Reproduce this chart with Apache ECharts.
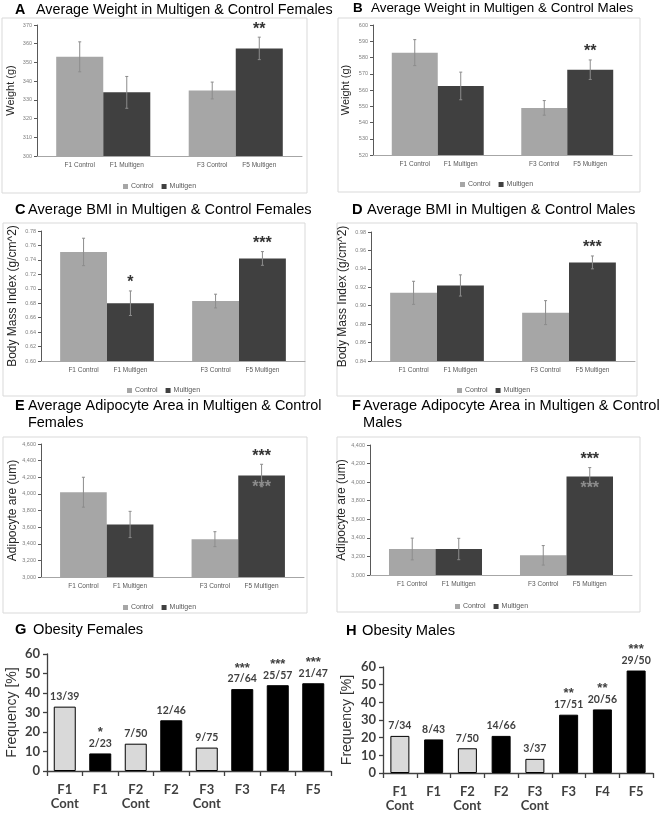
<!DOCTYPE html>
<html>
<head>
<meta charset="utf-8">
<script src="https://cdn.jsdelivr.net/npm/echarts@6/dist/echarts.min.js"></script>
<style>
  html, body { margin: 0; padding: 0; background: #fff; }
  #main { width: 661px; height: 813px; }
</style>
</head>
<body>
<div id="main"></div>
<script>
// ---- data ----
// A / B : weight (g)
var ctrlNamesAB = ['F1 Control', 'F3 Control'];
var multNamesAB = ['F1 Multigen', 'F5 Multigen'];
var ctrlA = [353, 335], ctrlErrA = [8, 4.5];
var multA = [334, 357.5], multErrA = [8.5, 6];
var sigA = ['', '**'];
var ctrlB = [583, 549], ctrlErrB = [8, 4.5];
var multB = [562.5, 572.5], multErrB = [8.5, 6];
var sigB = ['', '**'];
// C / D : BMI
var ctrlC = [0.751, 0.683], ctrlErrC = [0.019, 0.0095];
var multC = [0.680, 0.742], multErrC = [0.017, 0.0095];
var sigC = ['*', '***'];
var ctrlD = [0.914, 0.8925], ctrlErrD = [0.0125, 0.013];
var multD = [0.922, 0.947], multErrD = [0.0115, 0.007];
var sigD = ['', '***'];
// E / F : adipocyte area
var ctrlE = [4020, 3455], ctrlErrE = [180, 90];
var multE = [3632, 4221], multErrE = [158, 135];
var sigE = ['', '***'], sigInE = ['', '***'];
var ctrlF = [3280, 3212], ctrlErrF = [117, 105];
var multF = [3280, 4060], multErrF = [115, 97];
var sigF = ['', '***'], sigInF = ['', '***'];
// G / H : obesity frequency
var obesityCats = ['F1\nCont', 'F1', 'F2\nCont', 'F2', 'F3\nCont', 'F3', 'F4', 'F5'];
var femaleFreq = [33, 9, 14, 26, 12, 42, 44, 45];
var femaleFrac = ['13/39', '2/23', '7/50', '12/46', '9/75', '27/64', '25/57', '21/47'];
var femaleSig = ['', '*', '', '', '', '***', '***', '***'];
var maleFreq = [21, 19, 14, 21, 8, 33, 36, 58];
var maleFrac = ['7/34', '8/43', '7/50', '14/66', '3/37', '17/51', '20/56', '29/50'];
var maleSig = ['', '', '', '', '', '**', '**', '***'];

var CTRL = '#a6a6a6', MULT = '#404040';
var GAP = 0.29;
var SANS = '"Liberation Sans", Arial, sans-serif';
var CAL = 'Lato, "Open Sans", sans-serif';

var option = {
    animation: false,
    backgroundColor: '#fff',
    grid: [], xAxis: [], yAxis: [], series: [], legend: [], graphic: []
};

function addBarPanel(p) {
    var i = option.grid.length;
    option.grid.push({ left: p.grid[0], top: p.grid[1], width: p.grid[2], height: p.grid[3] });
    var bw = p.grid[2] / 2 * (1 - GAP) / 2;
    option.xAxis.push({
        type: 'category', gridIndex: i, data: [0, 1],
        axisLine: { lineStyle: { color: '#a6a6a6', width: 1 } },
        axisTick: { show: false },
        axisLabel: {
            margin: 6, interval: 0, hideOverlap: false,
            formatter: function (v, idx) {
                return '{n|' + p.ctrlNames[idx] + '}{n|' + p.multNames[idx] + '}';
            },
            rich: { n: { width: bw, align: 'center', fontSize: 6.5, color: '#595959', fontFamily: SANS } }
        }
    });
    option.yAxis.push({
        type: 'value', gridIndex: i, min: p.min, max: p.max, interval: p.interval,
        name: p.yName, nameLocation: 'middle', nameGap: p.nameGap,
        nameTextStyle: { fontSize: p.nameSize, color: '#262626', fontFamily: SANS },
        axisLine: { show: true, lineStyle: { color: '#595959', width: 1 } },
        axisTick: { show: true, length: 3, lineStyle: { color: '#595959' } },
        splitLine: { show: false },
        axisLabel: { fontSize: 5.5, color: '#7f7f7f', margin: 5, fontFamily: SANS, formatter: p.fmt }
    });
    option.series.push({
        name: 'Control', type: 'bar', xAxisIndex: i, yAxisIndex: i, data: p.ctrl,
        barGap: '0%', barCategoryGap: (GAP * 100) + '%', itemStyle: { color: CTRL }, silent: true
    });
    option.series.push({
        name: 'Multigen', type: 'bar', xAxisIndex: i, yAxisIndex: i, data: p.mult,
        barGap: '0%', barCategoryGap: (GAP * 100) + '%', itemStyle: { color: MULT }, silent: true
    });
    var rows = [];
    for (var k = 0; k < 2; k++) {
        rows.push([k, p.ctrl[k] - p.ctrlErr[k], p.ctrl[k] + p.ctrlErr[k], 0, p.ctrl[k]]);
        rows.push([k, p.mult[k] - p.multErr[k], p.mult[k] + p.multErr[k], 1, p.mult[k]]);
    }
    option.series.push({
        name: 'err' + i, type: 'custom', xAxisIndex: i, yAxisIndex: i, z: 10, silent: true,
        encode: { x: 0, y: [1, 2] }, data: rows,
        renderItem: function (params, api) {
            var k = api.value(0), side = api.value(3);
            var w = api.size([1, 0])[0] * (1 - GAP) / 2;
            var top = api.coord([k, api.value(2)]);
            var bot = api.coord([k, api.value(1)]);
            var mid = api.coord([k, api.value(4)]);
            var x = top[0] + (side ? w / 2 : -w / 2);
            var ls = { stroke: '#8c8c8c', lineWidth: 1 };
            var ch = [
                { type: 'line', shape: { x1: x, y1: top[1], x2: x, y2: bot[1] }, style: ls },
                { type: 'line', shape: { x1: x - 1.5, y1: top[1], x2: x + 1.5, y2: top[1] }, style: ls },
                { type: 'line', shape: { x1: x - 1.5, y1: bot[1], x2: x + 1.5, y2: bot[1] }, style: ls }
            ];
            if (side && p.sig[k]) {
                ch.push({ type: 'text', x: x, y: top[1] - 8, style: {
                    text: p.sig[k], font: 'bold 16px ' + SANS, fill: '#333',
                    align: 'center', verticalAlign: 'middle' } });
            }
            if (side && p.sigIn && p.sigIn[k]) {
                ch.push({ type: 'text', x: x, y: mid[1] + 12, style: {
                    text: p.sigIn[k], font: 'bold 16px ' + SANS, fill: '#8c8c8c',
                    align: 'center', verticalAlign: 'middle' } });
            }
            return { type: 'group', children: ch };
        }
    });
    option.legend.push({
        data: ['Control', 'Multigen'], left: p.legend[0], top: p.legend[1],
        icon: 'rect', itemWidth: 5, itemHeight: 5, itemGap: 8, selectedMode: false,
        textStyle: { fontSize: 7, color: '#595959', fontFamily: SANS, padding: [0, 0, 0, -2] }
    });
    option.graphic.push({
        type: 'rect', shape: { x: p.box[0], y: p.box[1], width: p.box[2], height: p.box[3] },
        style: { fill: 'none', stroke: '#d9d9d9', lineWidth: 1 }, silent: true, z: -1
    });
}

function addObesityPanel(p) {
    var i = option.grid.length;
    option.grid.push({ left: p.grid[0], top: p.grid[1], width: p.grid[2], height: p.grid[3] });
    option.xAxis.push({
        type: 'category', gridIndex: i, data: obesityCats,
        axisLine: { lineStyle: { color: '#404040', width: 1.3 } },
        axisTick: { show: true, length: 5, lineStyle: { color: '#404040', width: 1.3 } },
        axisLabel: { margin: 12, fontSize: 13, lineHeight: 14, fontWeight: 'bold', color: '#404040', fontFamily: CAL, interval: 0 }
    });
    option.yAxis.push({
        type: 'value', gridIndex: i, min: 0, max: 60, interval: 10,
        name: 'Frequency [%]', nameLocation: 'middle', nameGap: p.nameGap,
        nameTextStyle: { fontSize: 14, color: '#333', fontFamily: SANS },
        axisLine: { show: true, lineStyle: { color: '#404040', width: 1.3 } },
        axisTick: { show: true, length: 4, lineStyle: { color: '#404040', width: 1.3 } },
        splitLine: { show: false },
        axisLabel: { fontSize: 13, fontWeight: 'bold', color: '#404040', margin: 7, fontFamily: CAL }
    });
    var items = p.freq.map(function (v, k) {
        var ctrl = obesityCats[k].indexOf('Cont') >= 0;
        return { value: v, itemStyle: { color: ctrl ? '#d9d9d9' : '#000', borderColor: '#000', borderWidth: 1 } };
    });
    option.series.push({
        name: p.name, type: 'bar', xAxisIndex: i, yAxisIndex: i, data: items, barWidth: p.barWidth, silent: true,
        label: {
            show: true, position: 'top', distance: 4,
            formatter: function (prm) {
                var s = p.sig[prm.dataIndex];
                return (s ? '{s|' + s + '}\n' : '') + '{f|' + p.frac[prm.dataIndex] + '}';
            },
            rich: {
                s: { fontSize: 13, fontWeight: 'bold', color: '#404040', fontFamily: SANS, lineHeight: 10, align: 'center' },
                f: { fontSize: 10.5, fontWeight: 'bold', color: '#404040', fontFamily: CAL, lineHeight: 12, align: 'center' }
            }
        }
    });
}

addBarPanel({ grid: [37, 25, 265, 131], min: 300, max: 370, interval: 10,
    ctrl: ctrlA, ctrlErr: ctrlErrA, mult: multA, multErr: multErrA, sig: sigA,
    ctrlNames: ctrlNamesAB, multNames: multNamesAB, yName: 'Weight (g)', nameGap: 21, nameSize: 11,
    legend: [118, 178], box: [2, 18, 305, 175] });
addBarPanel({ grid: [373, 25, 259, 130], min: 520, max: 600, interval: 10,
    ctrl: ctrlB, ctrlErr: ctrlErrB, mult: multB, multErr: multErrB, sig: sigB,
    ctrlNames: ctrlNamesAB, multNames: multNamesAB, yName: 'Weight (g)', nameGap: 22, nameSize: 11,
    legend: [455, 176], box: [338, 18, 302, 174] });
addBarPanel({ grid: [41, 231, 264, 130], min: 0.60, max: 0.78, interval: 0.02,
    fmt: function (v) { return v.toFixed(2); },
    ctrl: ctrlC, ctrlErr: ctrlErrC, mult: multC, multErr: multErrC, sig: sigC,
    ctrlNames: ctrlNamesAB, multNames: multNamesAB, yName: 'Body Mass Index (g/cm^2)', nameGap: 22, nameSize: 12,
    legend: [122, 382], box: [3, 223, 302, 173] });
addBarPanel({ grid: [371, 232, 264, 129], min: 0.84, max: 0.98, interval: 0.02,
    fmt: function (v) { return v.toFixed(2); },
    ctrl: ctrlD, ctrlErr: ctrlErrD, mult: multD, multErr: multErrD, sig: sigD,
    ctrlNames: ctrlNamesAB, multNames: multNamesAB, yName: 'Body Mass Index (g/cm^2)', nameGap: 22, nameSize: 12,
    legend: [452, 382], box: [337, 223, 300, 173] });
addBarPanel({ grid: [41, 444, 263, 133], min: 3000, max: 4600, interval: 200,
    fmt: function (v) { return v.toLocaleString('en-US'); },
    ctrl: ctrlE, ctrlErr: ctrlErrE, mult: multE, multErr: multErrE, sig: sigE, sigIn: sigInE,
    ctrlNames: ctrlNamesAB, multNames: multNamesAB, yName: 'Adipocyte are (um)', nameGap: 22, nameSize: 12,
    legend: [118, 599], box: [3, 437, 304, 176] });
addBarPanel({ grid: [370, 445, 262, 130], min: 3000, max: 4400, interval: 200,
    fmt: function (v) { return v.toLocaleString('en-US'); },
    ctrl: ctrlF, ctrlErr: ctrlErrF, mult: multF, multErr: multErrF, sig: sigF, sigIn: sigInF,
    ctrlNames: ctrlNamesAB, multNames: multNamesAB, yName: 'Adipocyte are (um)', nameGap: 21, nameSize: 12,
    legend: [450, 598], box: [337, 437, 303, 175] });
addObesityPanel({ grid: [47, 654, 284, 117], freq: femaleFreq, frac: femaleFrac, sig: femaleSig,
    name: 'Females', barWidth: 22, nameGap: 28 });
addObesityPanel({ grid: [383, 667, 270, 110], freq: maleFreq, frac: maleFrac, sig: maleSig,
    name: 'Males', barWidth: 19, nameGap: 29 });

// panel titles
var titles = [
    ['A', 15, 'Average Weight in Multigen & Control Females', 36, 10, 14.3],
    ['B', 353, 'Average Weight in Multigen & Control Males', 371, 8, 13.4],
    ['C', 15, 'Average BMI in Multigen & Control Females', 28, 210, 14.6],
    ['D', 352, 'Average BMI in Multigen & Control Males', 367, 210, 14.7],
    ['E', 15, 'Average Adipocyte Area in Multigen & Control', 28, 406, 14.45],
    ['', 0, 'Females', 28, 423, 14.45],
    ['F', 352, 'Average Adipocyte Area in Multigen & Control', 363, 406, 14.6],
    ['', 0, 'Males', 363, 423, 14.6],
    ['G', 15, 'Obesity Females', 33, 630, 14.7],
    ['H', 346, 'Obesity Males', 362, 631, 14.7]
];
titles.forEach(function (t) {
    if (t[0]) {
        option.graphic.push({ type: 'text', x: t[1], y: t[4], silent: true,
            style: { text: t[0], font: 'bold ' + t[5] + 'px ' + SANS, fill: '#000', verticalAlign: 'middle' } });
    }
    option.graphic.push({ type: 'text', x: t[3], y: t[4], silent: true,
        style: { text: t[2], font: t[5] + 'px ' + SANS, fill: '#000', verticalAlign: 'middle' } });
});

var chart = echarts.init(document.getElementById('main'));
chart.setOption(option);
</script>
</body>
</html>
